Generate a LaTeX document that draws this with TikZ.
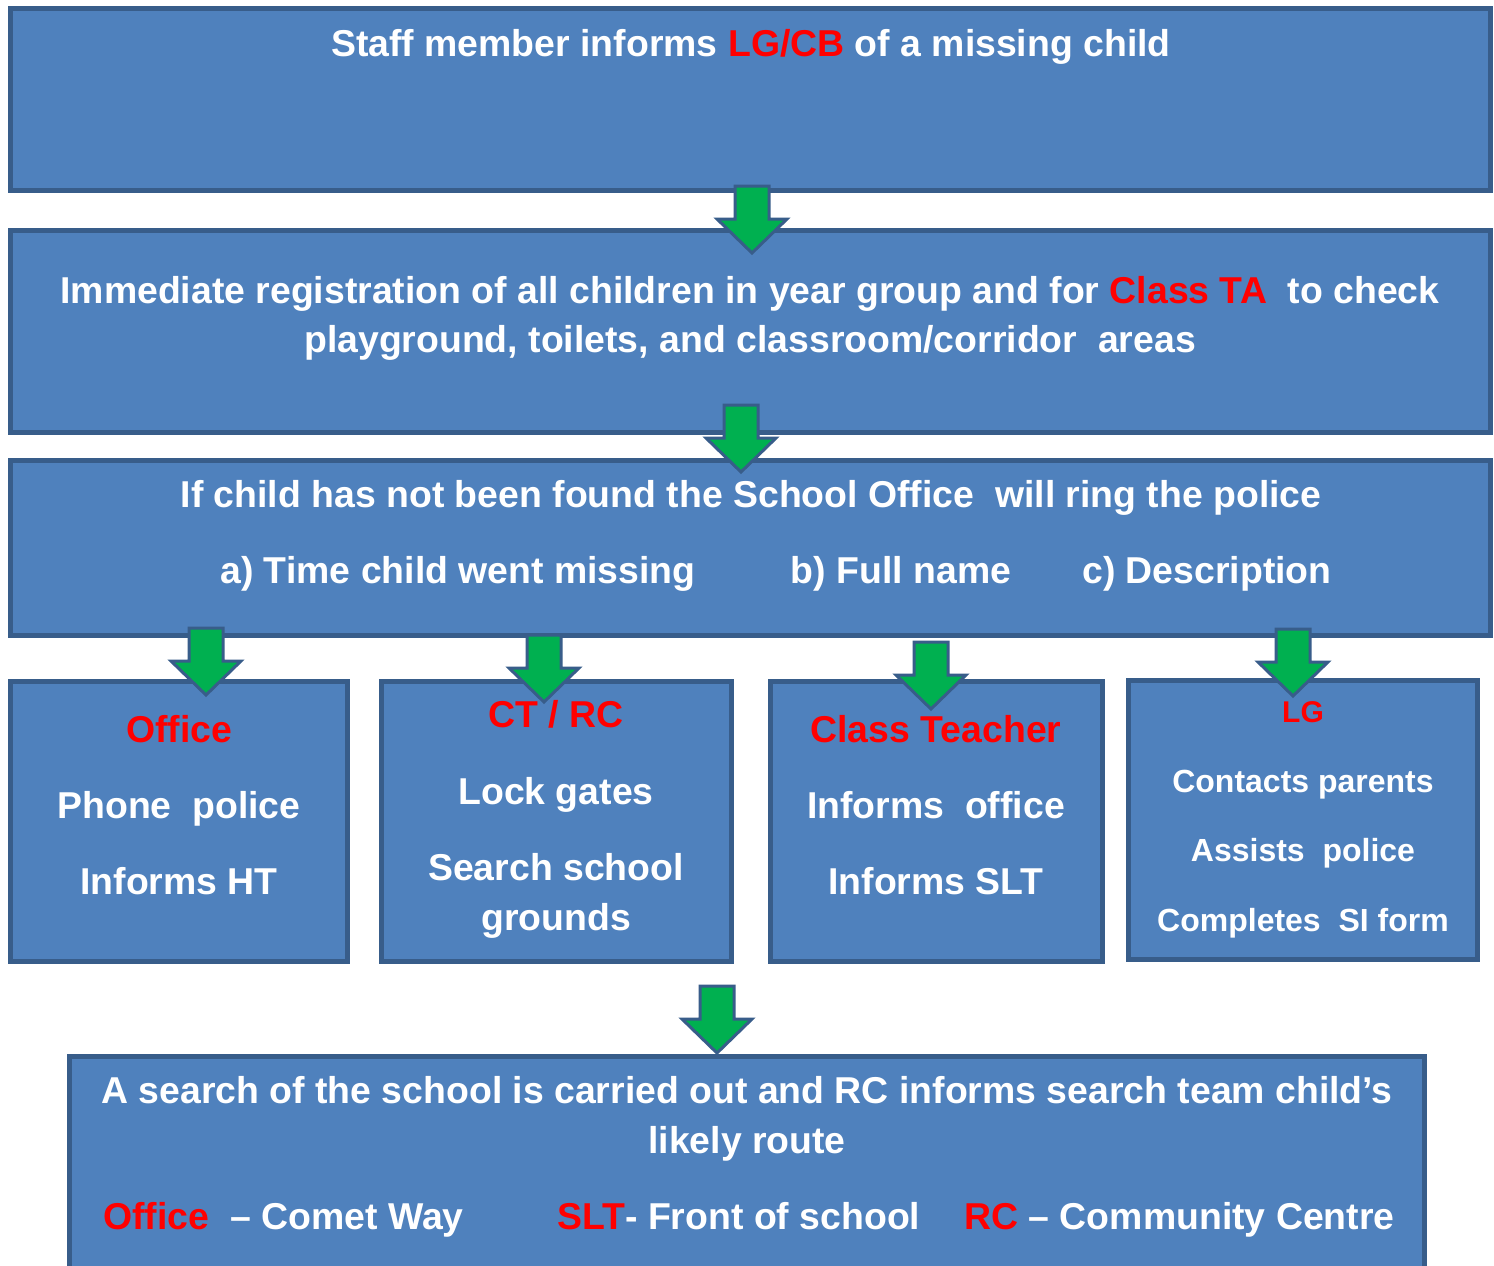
\documentclass[tikz,border=0pt]{standalone}
\usepackage{fontspec}
\setmainfont{Liberation Sans}
\definecolor{boxfill}{HTML}{4F81BD}
\definecolor{boxline}{HTML}{385D8A}
\definecolor{arrowgreen}{HTML}{00B050}
\definecolor{alertred}{HTML}{FF0000}
\newcommand{\rd}[1]{{\color{alertred}#1}}
\begin{document}
\begin{tikzpicture}[x=0.5pt,y=-0.5pt,
  panel/.style={draw=boxline, fill=boxfill, line width=2.5pt, anchor=north west, inner sep=0pt, outer sep=0pt},
  txt/.style={text=white, font=\fontsize{18.7}{22}\selectfont\bfseries, inner sep=0pt, anchor=base},
  smalltxt/.style={txt, font=\fontsize{16}{19}\selectfont\bfseries},
  downarrow/.pic={\path[draw=boxline, fill=arrowgreen, line width=1.5pt, line join=miter]
     (-17,0) -- (17,0) -- (17,33) -- (35,33) -- (0,67) -- (-35,33) -- (-17,33) -- cycle;}
]
\useasboundingbox (0,0) rectangle (1494,1265);
\fill[white] (0,0) rectangle (1494,1265);
\clip (0,0) rectangle (1494,1265);

% boxes
\node[panel, minimum width=740pt, minimum height=91pt]   (b1) at (10,8) {};
\node[panel, minimum width=740pt, minimum height=101pt]  (b2) at (10,230) {};
\node[panel, minimum width=740pt, minimum height=87.5pt] (b3) at (10,460) {};
\node[panel, minimum width=168.5pt, minimum height=140pt] (b4a) at (10,681) {};
\node[panel, minimum width=175pt, minimum height=140pt]   (b4b) at (381,681) {};
\node[panel, minimum width=166pt, minimum height=140pt]   (b4c) at (770,681) {};
\node[panel, minimum width=174.5pt, minimum height=139.5pt] (b4d) at (1128,680) {};
\node[panel, minimum width=677.5pt, minimum height=117pt] (b5) at (69,1056) {};

% arrows
\coordinate (a1) at (752,186);
\coordinate (a2) at (741,405);
\coordinate (a3) at (206,628);
\coordinate (a4) at (544,635);
\coordinate (a5) at (931,642);
\coordinate (a6) at (1293,629);
\coordinate (a7) at (717,986);
\foreach \a in {a1,a2,a3,a4,a5,a6,a7} {\pic at (\a) {downarrow};}

% texts box 1
\node[txt] (t1) at (751,56) {Staff member informs \rd{LG/CB} of a missing child};
% box 2
\node[txt] (t2a) at (750,303) {Immediate registration of all children in year group and for \rd{Class TA}\ \ to check};
\node[txt] (t2b) at (750,352) {playground, toilets, and classroom/corridor\ \ areas};
% box 3
\node[txt] (t3a) at (751,507) {If child has not been found the School Office\ \ will ring the police};
\node[txt] (t3b) at (458,583) {a)\ Time child went missing};
\node[txt] (t3c) at (901,583) {b) Full name};
\node[txt] (t3d) at (1207,583) {c) Description};
% box 4a
\node[txt] (t4a1) at (179,742) {\rd{Office}};
\node[txt] (t4a2) at (179,818) {Phone\ \ police};
\node[txt] (t4a3) at (179,894) {Informs HT};
% box 4b
\node[txt] (t4b1) at (556,727) {\rd{CT / RC}};
\node[txt] (t4b2) at (556,804) {Lock gates};
\node[txt] (t4b3) at (556,880) {Search school};
\node[txt] (t4b4) at (556,930) {grounds};
% box 4c
\node[txt] (t4c1) at (936,742) {\rd{Class Teacher}};
\node[txt] (t4c2) at (936,818) {Informs\ \ office};
\node[txt] (t4c3) at (936,894) {Informs SLT};
% box 4d
\node[smalltxt, font=\fontsize{15}{18}\selectfont\bfseries] (t4d1) at (1303,722) {\rd{LG}};
\node[smalltxt] (t4d2) at (1303,792) {Contacts parents};
\node[smalltxt] (t4d3) at (1303,861) {Assists\ \ police};
\node[smalltxt] (t4d4) at (1303,931) {Completes\ \ SI form};
% box 5
\node[txt] (t5a) at (747,1103) {A search of the school is carried out and RC informs search team child’s};
\node[txt] (t5b) at (747,1153) {likely route};
\node[txt, anchor=base west] (t5c) at (103,1229) {\rd{Office}\ \ – Comet Way};
\node[txt, anchor=base west] (t5d) at (557,1229) {\rd{SLT}- Front of school};
\node[txt, anchor=base west] (t5e) at (964,1229) {\rd{RC} – Community Centre};
\end{tikzpicture}
\end{document}
